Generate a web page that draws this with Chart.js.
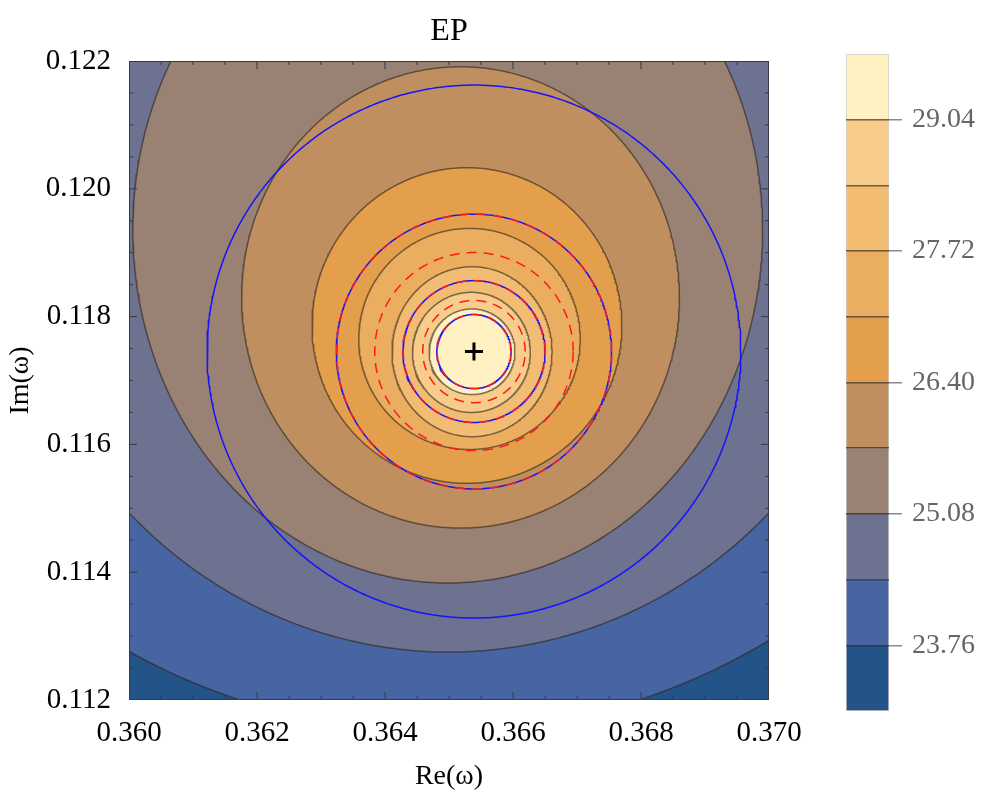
<!DOCTYPE html>
<html>
<head>
<meta charset="utf-8">
<script src="https://cdn.jsdelivr.net/npm/chart.js@4.4.1/dist/chart.umd.min.js"></script>
<style>
  body { margin: 0; background: #fff; }
  #wrap { position: relative; width: 997px; height: 801px; }
  #main { position: absolute; left: 0; top: 0; }
  #bar { position: absolute; left: 800px; top: 0; }
</style>
</head>
<body>
<div id="wrap">
  <canvas id="main" width="997" height="801"></canvas>
  <canvas id="bar" width="197" height="801"></canvas>
</div>
<script>
const levels = [23.76, 24.42, 25.08, 25.74, 26.40, 27.06, 27.72, 28.38, 29.04];
const bandColors = ["#245388", "#4765a3", "#6c7290", "#998274", "#c08f60", "#e39f4b", "#ebae60", "#f2bc72", "#f8cc8a", "#fff1c1"];
// contour outlines: centre and half axes for each level
const contourCx = [0.36485, 0.36500, 0.36498, 0.36518, 0.36528, 0.36532, 0.36536, 0.36535, 0.36536];
const contourCy = [0.12147, 0.12009, 0.11936, 0.11830, 0.11786, 0.11765, 0.11745, 0.11744, 0.11745];
const contourRx = [0.00997, 0.00703, 0.00492, 0.00342, 0.00242, 0.00173, 0.00125, 0.00092, 0.00067];
const contourRy = [0.00997, 0.00734, 0.00553, 0.00361, 0.00247, 0.00173, 0.00133, 0.00094, 0.00067];
const epPoint = [0.36539, 0.117453];
const blueRadii = [0.00058, 0.00111, 0.00215, 0.00417];
const redRadii = [0.00058, 0.00080, 0.00111, 0.00155, 0.00215];
const xTicks = [0.360, 0.362, 0.364, 0.366, 0.368, 0.370];
const yTicks = [0.112, 0.114, 0.116, 0.118, 0.120, 0.122];
const barTicks = [23.76, 25.08, 26.40, 27.72, 29.04];
const barRange = [23.10, 29.70];

const serif = "'Liberation Serif', 'DejaVu Serif', serif";

function ellipse(cx, cy, rx, ry, n = 480) {
  const pts = [];
  for (let i = 0; i <= n; i++) {
    const t = (i / n) * 2 * Math.PI;
    pts.push({ x: cx + rx * Math.cos(t), y: cy + ry * Math.sin(t) });
  }
  return pts;
}

const datasets = [];
levels.forEach((lv, i) => {
  datasets.push({
    data: ellipse(contourCx[i], contourCy[i], contourRx[i], contourRy[i]),
    showLine: true,
    fill: "shape",
    backgroundColor: bandColors[i + 1],
    borderColor: "rgba(45,35,25,0.6)",
    borderWidth: 1.5,
    pointRadius: 0,
  });
});
blueRadii.forEach((r) => {
  datasets.push({
    data: ellipse(epPoint[0], epPoint[1], r, r),
    showLine: true,
    fill: false,
    borderColor: "#1414ff",
    borderWidth: 1.5,
    pointRadius: 0,
  });
});
redRadii.forEach((r) => {
  datasets.push({
    data: ellipse(epPoint[0], epPoint[1], r, r),
    showLine: true,
    fill: false,
    borderColor: "#ff1a1a",
    borderDash: [10, 7],
    borderWidth: 1.5,
    pointRadius: 0,
  });
});
datasets.push({
  data: [{ x: epPoint[0], y: epPoint[1] }],
  pointStyle: "cross",
  pointRadius: 9,
  borderWidth: 3,
  borderColor: "#000",
});
// first dataset is drawn first
datasets.forEach((d, i) => (d.order = datasets.length - i));

const plotBackground = {
  id: "plotBackground",
  beforeDatasetsDraw(chart) {
    const { ctx, chartArea: a } = chart;
    ctx.save();
    ctx.fillStyle = bandColors[0];
    ctx.fillRect(a.left, a.top, a.right - a.left, a.bottom - a.top);
    ctx.restore();
  },
};

// frame with inward ticks on all four sides
const frameTicks = {
  id: "frameTicks",
  afterDatasetsDraw(chart) {
    const { ctx, chartArea: a, scales: { x, y } } = chart;
    ctx.save();
    ctx.strokeStyle = "#333a48";
    ctx.lineWidth = 1;
    ctx.beginPath();
    for (let k = 1; k < 20; k++) {
      const len = k % 4 === 0 ? 8 : 4;
      const px = x.getPixelForValue(x.min + (k * (x.max - x.min)) / 20);
      const py = y.getPixelForValue(y.min + (k * (y.max - y.min)) / 20);
      ctx.moveTo(px, a.bottom); ctx.lineTo(px, a.bottom - len);
      ctx.moveTo(px, a.top); ctx.lineTo(px, a.top + len);
      ctx.moveTo(a.left, py); ctx.lineTo(a.left + len, py);
      ctx.moveTo(a.right, py); ctx.lineTo(a.right - len, py);
    }
    ctx.stroke();
    ctx.strokeRect(a.left + 0.5, a.top + 0.5, a.right - a.left - 1, a.bottom - a.top - 1);
    ctx.restore();
  },
};

new Chart(document.getElementById("main"), {
  type: "scatter",
  data: { datasets },
  options: {
    responsive: false,
    animation: false,
    layout: { padding: { left: 0, right: 228, top: 0, bottom: 0 } },
    plugins: {
      legend: { display: false },
      tooltip: { enabled: false },
      title: {
        display: true,
        text: "EP",
        color: "#000",
        fullSize: false,
        font: { family: serif, size: 32, weight: "normal" },
        padding: { top: 12, bottom: 10.6 },
      },
    },
    scales: {
      x: {
        type: "linear",
        min: 0.36,
        max: 0.37,
        afterBuildTicks: (s) => { s.ticks = xTicks.map((v) => ({ value: v })); },
        afterFit: (s) => { s.height = 101; },
        grid: { display: false },
        border: { display: false },
        ticks: {
          autoSkip: false,
          maxRotation: 0,
          padding: 8,
          color: "#000",
          font: { family: serif, size: 29 },
          callback: (v) => Number(v).toFixed(3),
        },
        title: {
          display: true,
          text: "Re(ω)",
          color: "#000",
          font: { family: serif, size: 28 },
          padding: { top: 0, bottom: 8 },
        },
      },
      y: {
        type: "linear",
        min: 0.112,
        max: 0.122,
        afterBuildTicks: (s) => { s.ticks = yTicks.map((v) => ({ value: v })); },
        afterFit: (s) => { s.width = 129; },
        grid: { display: false },
        border: { display: false },
        ticks: {
          autoSkip: false,
          padding: 10,
          color: "#000",
          font: { family: serif, size: 29 },
          callback: (v) => Number(v).toFixed(3),
        },
        title: {
          display: true,
          text: "Im(ω)",
          color: "#000",
          font: { family: serif, size: 28 },
          padding: { top: 4, bottom: 0 },
        },
      },
    },
  },
  plugins: [plotBackground, frameTicks],
});

// colour bar
const bandData = bandColors.map((c, i) => ({
  data: [[i === 0 ? barRange[0] : levels[i - 1], i === levels.length ? barRange[1] : levels[i]]],
  backgroundColor: c,
  borderColor: "#cfcfcf",
  borderWidth: { left: 1, right: 1, top: i === levels.length ? 1 : 0, bottom: i === 0 ? 1 : 0 },
  borderSkipped: false,
  barPercentage: 1,
  categoryPercentage: 1,
  grouped: false,
}));

new Chart(document.getElementById("bar"), {
  type: "bar",
  data: { labels: [""], datasets: bandData },
  options: {
    responsive: false,
    animation: false,
    layout: { padding: { left: 46, right: 0, top: 54, bottom: 90 } },
    plugins: { legend: { display: false }, tooltip: { enabled: false } },
    scales: {
      x: { display: false },
      y: {
        position: "right",
        min: barRange[0],
        max: barRange[1],
        afterBuildTicks: (s) => { s.ticks = levels.map((v) => ({ value: v })); },
        afterFit: (s) => { s.width = 108; },
        border: { display: false },
        grid: {
          z: 1,
          drawOnChartArea: true,
          color: "rgba(40,30,20,0.65)",
          lineWidth: 1.5,
          tickLength: 13,
          tickColor: (ctx) => (barTicks.includes(ctx.tick.value) ? "#8a8a8a" : "rgba(0,0,0,0)"),
        },
        ticks: {
          autoSkip: false,
          padding: 10,
          color: "#666",
          font: { family: serif, size: 28 },
          callback: (v) => (barTicks.includes(v) ? v.toFixed(2) : ""),
        },
      },
    },
  },
});
</script>
</body>
</html>
